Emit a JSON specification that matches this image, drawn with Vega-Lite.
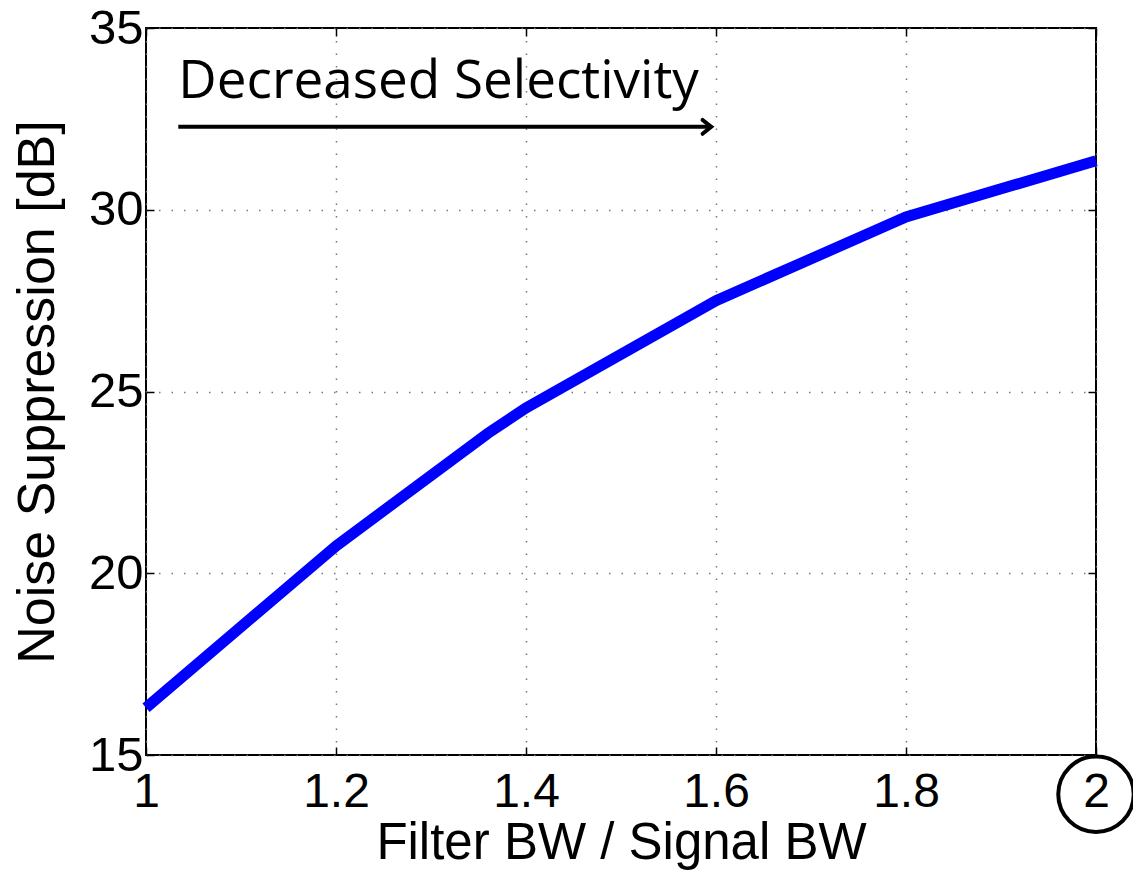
{
  "$schema": "https://vega.github.io/schema/vega-lite/v6.json",
  "autosize": "none",
  "width": 950,
  "height": 727,
  "padding": {"left": 146, "top": 28, "right": 37, "bottom": 122},
  "background": "white",
  "config": {
    "view": {"stroke": "black", "strokeWidth": 2},
    "font": "Liberation Sans"
  },
  "resolve": {"axis": {"x": "independent", "y": "independent"}},
  "layer": [
    {
      "data": {"values": [
        {"ratio": 1.0, "suppression": 16.3},
        {"ratio": 1.2, "suppression": 20.75},
        {"ratio": 1.36, "suppression": 23.85},
        {"ratio": 1.4, "suppression": 24.55},
        {"ratio": 1.6, "suppression": 27.5},
        {"ratio": 1.8, "suppression": 29.8},
        {"ratio": 2.0, "suppression": 31.35}
      ]},
      "mark": {"type": "line", "color": "#0000FF", "strokeWidth": 11, "strokeJoin": "miter", "strokeCap": "butt"},
      "encoding": {
        "x": {
          "field": "ratio", "type": "quantitative",
          "scale": {"domain": [1, 2], "nice": false, "zero": false},
          "axis": {
            "title": "Filter BW / Signal BW",
            "titleFont": "Liberation Sans", "titleFontSize": 51, "titleFontWeight": "normal", "titleColor": "black", "titlePadding": 2,
            "values": [1, 1.2, 1.4, 1.6, 1.8, 2], "format": "~g",
            "labelFont": "Liberation Sans", "labelFontSize": 48, "labelColor": "black", "labelPadding": 21,
            "labelFlush": false, "labelOverlap": false,
            "domain": false,
            "ticks": true, "tickSize": -8, "tickColor": "black", "tickWidth": 1.5,
            "grid": true, "gridColor": "#777", "gridDash": [1.5, 11], "gridWidth": 1.5
          }
        },
        "y": {
          "field": "suppression", "type": "quantitative",
          "scale": {"domain": [15, 35], "nice": false, "zero": false},
          "axis": {
            "title": "Noise Suppression [dB]",
            "titleFont": "Liberation Sans", "titleFontSize": 52, "titleFontWeight": "normal", "titleColor": "black", "titlePadding": 24,
            "values": [15, 20, 25, 30, 35], "format": "~g",
            "labelFont": "Liberation Sans", "labelFontSize": 49, "labelColor": "black", "labelPadding": 11,
            "labelFlush": false, "labelOverlap": false,
            "domain": false,
            "ticks": true, "tickSize": -8, "tickColor": "black", "tickWidth": 1.5,
            "grid": true, "gridColor": "#777", "gridDash": [1.5, 11], "gridWidth": 1.5
          }
        }
      }
    },
    {
      "data": {"values": [{"label": "Decreased Selectivity", "x": 1.034, "y": 33.07}]},
      "mark": {"type": "text", "align": "left", "baseline": "alphabetic", "font": "Open Sans", "fontSize": 53, "color": "black"},
      "encoding": {
        "x": {
          "field": "x", "type": "quantitative",
          "axis": {"orient": "top", "title": null, "labels": false, "domain": false, "grid": false, "values": [1, 1.2, 1.4, 1.6, 1.8, 2], "ticks": true, "tickSize": -8, "tickColor": "black", "tickWidth": 1.5}
        },
        "y": {
          "field": "y", "type": "quantitative",
          "axis": {"orient": "right", "title": null, "labels": false, "domain": false, "grid": false, "values": [15, 20, 25, 30, 35], "ticks": true, "tickSize": -8, "tickColor": "black", "tickWidth": 1.5}
        },
        "text": {"field": "label"}
      }
    },
    {
      "data": {"values": [{"x1": 1.034, "x2": 1.594, "y": 32.28}]},
      "mark": {"type": "rule", "color": "black", "strokeWidth": 4},
      "encoding": {
        "x": {"field": "x1", "type": "quantitative", "axis": null},
        "x2": {"field": "x2"},
        "y": {"field": "y", "type": "quantitative", "axis": null}
      }
    },
    {
      "data": {"values": [{"x": 1.595, "y": 32.28}]},
      "mark": {"type": "point", "shape": "M-1,-0.8L0,0L-1,0.8", "filled": false, "stroke": "black", "strokeWidth": 4, "size": 300, "opacity": 1, "strokeCap": "round", "strokeJoin": "miter"},
      "encoding": {
        "x": {"field": "x", "type": "quantitative", "axis": null},
        "y": {"field": "y", "type": "quantitative", "axis": null}
      }
    },
    {
      "data": {"values": [{"x": 2.0, "y": 13.92}]},
      "mark": {"type": "point", "shape": "circle", "filled": false, "stroke": "black", "strokeWidth": 4, "size": 5700, "opacity": 1, "clip": false},
      "encoding": {
        "x": {"field": "x", "type": "quantitative", "axis": null},
        "y": {"field": "y", "type": "quantitative", "axis": null}
      }
    }
  ]
}
